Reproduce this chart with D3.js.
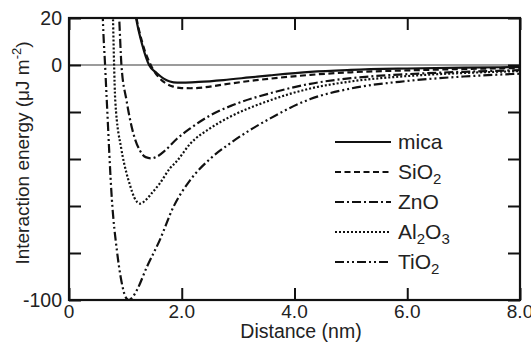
<!DOCTYPE html>
<html>
<head>
<meta charset="utf-8">
<script src="https://cdn.jsdelivr.net/npm/d3@7"></script>
<style>
  html, body { margin: 0; padding: 0; background: #fff; }
  svg { display: block; font-family: "Liberation Sans", Arial, sans-serif; }
</style>
</head>
<body>
<svg id="chart" width="531" height="345"></svg>
<script>
// ---- data ----
const seriesNames = ["mica", "SiO2", "ZnO", "Al2O3", "TiO2"];

const micaX = [1.10, 1.19, 1.30, 1.42, 1.56, 1.68, 1.79, 1.92, 2.03, 2.30, 2.74, 3.20, 3.57, 4.28, 5.0, 6.0, 7.0, 8.0];
const micaY = [35, 20, 8.5, 0, -3.5, -5.8, -7.0, -7.5, -7.5, -7.2, -6.4, -5.3, -4.4, -2.9, -2.1, -1.5, -1.1, -0.9];

const sio2X = [1.10, 1.19, 1.30, 1.45, 1.61, 1.73, 1.85, 2.0, 2.15, 2.40, 2.74, 3.20, 3.57, 4.28, 5.0, 6.0, 7.0, 8.0];
const sio2Y = [36, 21, 9.5, 0, -5.7, -8.0, -9.2, -9.8, -9.9, -9.5, -8.3, -6.8, -5.8, -4.2, -3.1, -2.3, -1.7, -1.3];

const znoX = [0.84, 0.89, 0.93, 1.02, 1.14, 1.26, 1.36, 1.46, 1.56, 1.70, 1.91, 2.15, 2.50, 2.86, 3.57, 4.28, 5.0, 6.0, 7.0, 8.0];
const znoY = [40, 20, 0, -15, -29, -36.5, -39.2, -39.7, -39.0, -36.5, -31.5, -27.0, -21.5, -17.5, -12.0, -8.0, -5.6, -3.9, -2.9, -2.2];

const al2o3X = [0.74, 0.78, 0.80, 0.82, 0.93, 1.02, 1.08, 1.16, 1.26, 1.36, 1.47, 1.61, 1.79, 1.91, 2.15, 2.50, 2.86, 3.57, 4.28, 5.0, 6.0, 7.0, 8.0];
const al2o3Y = [50, 20, 0, -15, -36, -46, -51, -56.5, -59.0, -57.5, -54.5, -50.4, -44.0, -41.0, -33.5, -27.0, -22.0, -15.0, -10.0, -7.0, -4.7, -3.4, -2.6];

const tio2X = [0.56, 0.60, 0.64, 0.67, 0.76, 0.85, 0.93, 1.00, 1.06, 1.12, 1.20, 1.38, 1.61, 1.85, 2.15, 2.50, 2.86, 3.57, 4.28, 5.0, 6.0, 7.0, 8.0];
const tio2Y = [60, 20, 0, -15, -57, -79, -92, -98.5, -100, -99, -96, -86, -74.5, -60.5, -49, -40, -33.3, -22.7, -14.5, -10.0, -6.8, -4.9, -3.7];

const xTickLabels = ["0", "2.0", "4.0", "6.0", "8.0"];
const xTickValues = [0, 2, 4, 6, 8];
const yTickValues = [20, 0, -20, -40, -60, -80, -100];
const yTickLabels = ["20", "0", "", "", "", "", "-100"];

// ---- layout ----
const svg = d3.select("#chart");
const L = 69, R = 520, T = 18, B = 300;
const x = d3.scaleLinear().domain([0, 8]).range([L, R]);
const y = d3.scaleLinear().domain([-100, 20]).range([B, T]);

svg.append("defs").append("clipPath").attr("id", "clip")
  .append("rect").attr("x", L).attr("y", T).attr("width", R - L).attr("height", B - T);

// zero line
svg.append("line")
  .attr("x1", L).attr("x2", R).attr("y1", y(0)).attr("y2", y(0))
  .attr("stroke", "#7a7a7a").attr("stroke-width", 1.5);

const styles = {
  mica: { dash: null },
  SiO2: { dash: "6,3.5" },
  ZnO: { dash: "9,3,2,3" },
  Al2O3: { dash: "2,2" },
  TiO2: { dash: "9,3,2,3,2,3" }
};

const data = [
  { name: "mica", xs: micaX, ys: micaY },
  { name: "SiO2", xs: sio2X, ys: sio2Y },
  { name: "ZnO", xs: znoX, ys: znoY },
  { name: "Al2O3", xs: al2o3X, ys: al2o3Y },
  { name: "TiO2", xs: tio2X, ys: tio2Y }
];

const line = d3.line()
  .x(d => x(d[0])).y(d => y(d[1]))
  .curve(d3.curveMonotoneX);

const g = svg.append("g").attr("clip-path", "url(#clip)");
data.forEach(s => {
  const pts = s.xs.map((v, i) => [v, s.ys[i]]);
  g.append("path")
    .attr("d", line(pts))
    .attr("fill", "none")
    .attr("stroke", "#111")
    .attr("stroke-width", 2.2)
    .attr("stroke-dasharray", styles[s.name].dash);
});

// axes (inward ticks on all four sides)
const tickLen = 12;
const axB = d3.axisBottom(x).tickValues(xTickValues).tickSize(-tickLen).tickFormat(() => "");
const axT = d3.axisTop(x).tickValues(xTickValues).tickSize(-tickLen).tickFormat(() => "");
const axL = d3.axisLeft(y).tickValues(yTickValues).tickSize(-tickLen).tickFormat(() => "");
const axR = d3.axisRight(y).tickValues(yTickValues).tickSize(-tickLen).tickFormat(() => "");

function styleAxis(sel) {
  sel.selectAll("path.domain").remove();
  sel.selectAll(".tick line").attr("stroke", "#111").attr("stroke-width", 2);
}
svg.append("g").attr("transform", `translate(0,${B})`).call(axB).call(styleAxis);
svg.append("g").attr("transform", `translate(0,${T})`).call(axT).call(styleAxis);
svg.append("g").attr("transform", `translate(${L},0)`).call(axL).call(styleAxis);
svg.append("g").attr("transform", `translate(${R},0)`).call(axR).call(styleAxis);

// frame
svg.append("rect")
  .attr("x", L).attr("y", T).attr("width", R - L).attr("height", B - T)
  .attr("fill", "none").attr("stroke", "#111").attr("stroke-width", 2.2);

// tick labels
const fs = 19;
svg.append("g").selectAll("text").data(xTickValues).join("text")
  .attr("x", d => x(d)).attr("y", 318)
  .attr("text-anchor", "middle").attr("font-size", fs).attr("fill", "#222")
  .text((d, i) => xTickLabels[i]);

svg.append("g").selectAll("text").data(yTickValues).join("text")
  .attr("x", 62).attr("y", d => y(d)).attr("dy", "0.35em")
  .attr("text-anchor", "end").attr("font-size", 19.5).attr("fill", "#222")
  .text((d, i) => yTickLabels[i]);

// axis titles
svg.append("text")
  .attr("x", 301).attr("y", 338)
  .attr("text-anchor", "middle").attr("font-size", 19.5).attr("fill", "#222")
  .text("Distance (nm)");

const yl = svg.append("text")
  .attr("transform", "translate(29,153) rotate(-90)")
  .attr("text-anchor", "middle").attr("font-size", 19).attr("fill", "#222");
yl.append("tspan").text("Interaction energy (\u03bcJ m");
yl.append("tspan").attr("font-size", 13).attr("dy", -8).text("-2");
yl.append("tspan").attr("dy", 8).text(")");

// legend
const legLabels = [
  [["mica", false]],
  [["SiO", false], ["2", true]],
  [["ZnO", false]],
  [["Al", false], ["2", true], ["O", false], ["3", true]],
  [["TiO", false], ["2", true]]
];
const legY0 = 142, legDY = 30;
data.forEach((s, i) => {
  const yy = legY0 + i * legDY;
  svg.append("line")
    .attr("x1", 335).attr("x2", 391).attr("y1", yy).attr("y2", yy)
    .attr("stroke", "#111").attr("stroke-width", 2.2)
    .attr("stroke-dasharray", styles[s.name].dash);
  const t = svg.append("text")
    .attr("x", 398).attr("y", yy + 7)
    .attr("font-size", 21).attr("fill", "#222");
  let sub = false;
  legLabels[i].forEach(([txt, isSub]) => {
    const ts = t.append("tspan").text(txt);
    if (isSub && !sub) { ts.attr("font-size", 15).attr("dy", 5); sub = true; }
    else if (!isSub && sub) { ts.attr("dy", -5); sub = false; }
    else if (isSub) ts.attr("font-size", 15);
  });
});
</script>
</body>
</html>
